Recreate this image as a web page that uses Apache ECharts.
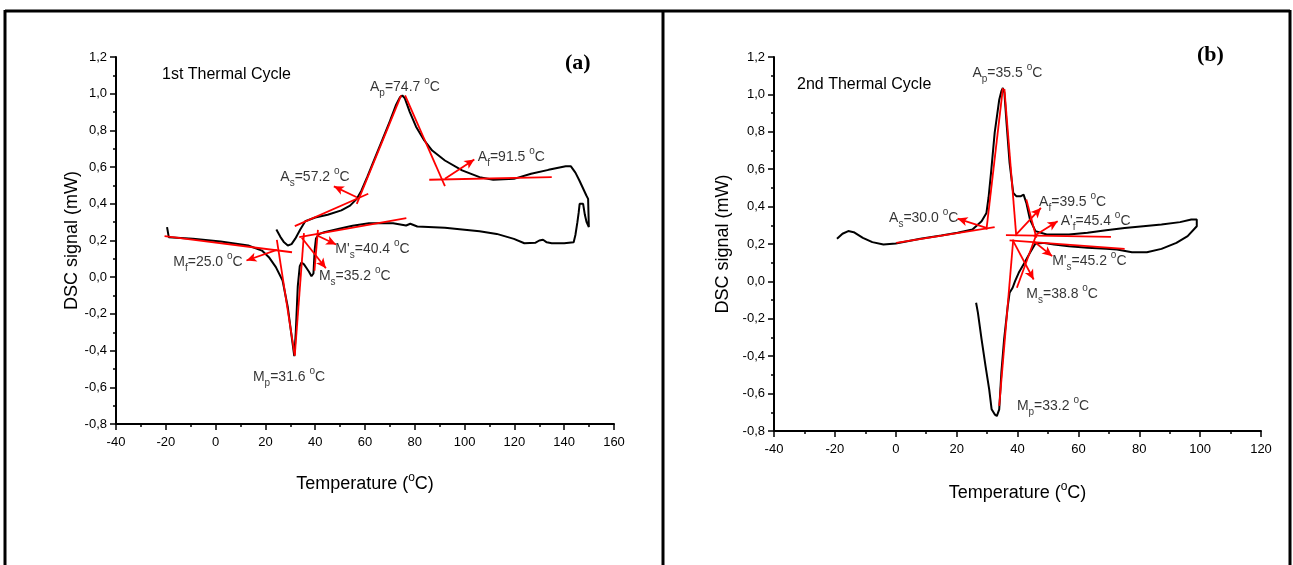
<!DOCTYPE html>
<html>
<head>
<meta charset="utf-8">
<script src="https://cdn.jsdelivr.net/npm/echarts@6/dist/echarts.min.js"></script>
<style>
  html, body { margin: 0; padding: 0; background: #fff; }
  #main { width: 1293px; height: 565px; }
</style>
</head>
<body>
<div id="main"></div>
<script>
// ---- cycle 1 (panel a): temperature / DSC signal, loop order
var cycle1Temp = [24.4, 26, 27.5, 29.0, 30.5, 32, 34, 36.0, 40, 45, 50.5, 54, 56.7, 58.5, 61, 64, 67, 70, 72.5, 74, 75, 76, 78, 80.5, 83.8, 87, 92.1, 99, 106, 111.5, 119.8, 126.7, 133.7, 140.6, 142.7, 144.5, 146.1, 148.9, 149.6, 149.9,
  149, 148.3, 147.6, 147, 146.2, 145.8, 145.3, 144.5, 143.8, 140, 135, 133, 131.5, 130, 128.5, 124, 119.8, 112.9, 106, 99, 92.1, 81, 78.2, 76.5, 71.3, 61.6, 55, 50.5, 43.6, 41.5, 40.3, 39.8, 39.3, 38.5, 37.5, 36.5, 35.5, 34.5, 33.8, 33, 32.2, 31.6,
  30.4, 29, 26.9, 24.2, 21.4, 18.6, 13.1, 2, -9.1, -18.8, -19.5, -19.5]
var cycle1Signal = [0.26, 0.22, 0.19, 0.173, 0.18, 0.21, 0.26, 0.305, 0.325, 0.34, 0.364, 0.39, 0.427, 0.47, 0.55, 0.65, 0.75, 0.85, 0.94, 0.98, 0.99, 0.975, 0.9, 0.82, 0.745, 0.69, 0.636, 0.582, 0.545, 0.531, 0.536, 0.564, 0.585, 0.605, 0.604, 0.57, 0.527, 0.445, 0.427, 0.273,
  0.3, 0.34, 0.4, 0.41, 0.4, 0.35, 0.3, 0.23, 0.19, 0.185, 0.185, 0.19, 0.204, 0.2, 0.188, 0.185, 0.209, 0.236, 0.251, 0.26, 0.269, 0.276, 0.291, 0.282, 0.294, 0.294, 0.28, 0.267, 0.245, 0.235, 0.21, 0.15, 0.02, 0.005, 0.03, 0.05, 0.07, 0.08, 0.06, -0.05, -0.3, -0.43,
  -0.309, -0.164, -0.018, 0.055, 0.109, 0.145, 0.173, 0.195, 0.209, 0.218, 0.22, 0.273]

// ---- cycle 2 (panel b)
var cycle2Temp = [-19.3, -17.5, -15.6, -13.8, -10.8, -7.7, -4.05, 0, 8.1, 15, 20.3, 25.2, 28.2, 29.8, 30.5, 31.3, 32.5, 34, 34.7, 35.2, 35.7, 36.4, 37.4, 38.6, 39.6, 41, 42, 42.9, 44.1, 45.9, 49.6, 56.9, 63, 69.1, 75.2, 81.3, 87.3, 93.4, 97.1, 98.9,
  98.9, 95.9, 92.2, 87.3, 82.5, 77.6, 72.7, 69.1, 63, 56.9, 52, 48.3, 45.9, 44.1, 42.3, 40.4, 39.2, 38.4, 37.4, 36.8, 35.6, 34.7, 34, 33.2, 32.5, 31.5, 30.7, 29.5, 28.2, 27, 26.4]
var cycle2Signal = [0.228, 0.255, 0.269, 0.263, 0.233, 0.21, 0.197, 0.203, 0.228, 0.245, 0.26, 0.277, 0.322, 0.366, 0.45, 0.58, 0.794, 0.972, 1.017, 1.034, 1.008, 0.847, 0.634, 0.473, 0.456, 0.455, 0.464, 0.42, 0.331, 0.269, 0.251, 0.251, 0.26, 0.274, 0.286, 0.295, 0.304, 0.317, 0.331, 0.331,
  0.295, 0.242, 0.206, 0.174, 0.156, 0.156, 0.171, 0.174, 0.18, 0.188, 0.197, 0.206, 0.203, 0.153, 0.1, 0.046, 0.001, -0.034, -0.061, -0.132, -0.31, -0.488, -0.684, -0.72, -0.711, -0.684, -0.577, -0.453, -0.31, -0.168, -0.114]

// red tangent lines [x1, y1, x2, y2]
var tangents1 = [
  [-20.5, 0.224, 30.7, 0.136],
  [24.6, 0.204, 31.8, -0.427],
  [31.8, -0.427, 35.5, 0.24],
  [33.6, 0.218, 76.6, 0.322],
  [41.1, 0.258, 39.7, 0.036],
  [31.8, 0.278, 61.3, 0.455],
  [56.7, 0.4, 74.5, 0.991],
  [76.1, 0.991, 92.1, 0.496],
  [85.8, 0.531, 135.0, 0.545]
]
var arrows1 = [
  [24.6, 0.149, 12.4, 0.091],
  [34.6, 0.215, 44.3, 0.049],
  [40.8, 0.227, 48.4, 0.178],
  [56.7, 0.436, 47.5, 0.495],
  [92.1, 0.536, 103.9, 0.642]
]
var tangents2 = [
  [0.2, 0.206, 32.5, 0.29],
  [29.8, 0.277, 35.2, 1.034],
  [35.7, 1.029, 39.6, 0.242],
  [36.2, 0.247, 70.7, 0.238],
  [37.4, 0.219, 75.2, 0.174],
  [34.0, -0.666, 38.6, 0.224],
  [39.8, -0.034, 46.2, 0.251],
  [42.9, 0.438, 46.2, 0.233]
]
var arrows2 = [
  [29.8, 0.286, 20.3, 0.336],
  [39.6, 0.251, 47.7, 0.393],
  [45.3, 0.242, 53.2, 0.322],
  [38.6, 0.215, 45.3, 0.01],
  [45.3, 0.215, 51.4, 0.135]
]

// annotations: [symbol, subscript, value]
var notes1 = [['A', 'p', '74.7'], ['A', 's', '57.2'], ['A', 'f', '91.5'], ["M'", 's', '40.4'], ['M', 'f', '25.0'], ['M', 's', '35.2'], ['M', 'p', '31.6']]
var notes1At = [[62.0, 1.036], [26.0, 0.545], [105.3, 0.655], [48.1, 0.155], [-17.0, 0.082], [41.5, 0.004], [15.0, -0.545]]
var notes2 = [['A', 'p', '35.5'], ['A', 's', '30.0'], ['A', 'f', '39.5'], ["A'", 'f', '45.4'], ["M'", 's', '45.2'], ['M', 's', '38.8'], ['M', 'p', '33.2']]
var notes2At = [[25.2, 1.115], [-2.2, 0.336], [47.1, 0.425], [54.2, 0.322], [51.4, 0.108], [42.9, -0.07], [39.8, -0.666]]

var FONT = 'Liberation Sans'

function pairs(xs, ys) {
  return xs.map(function (x, i) { return [x, ys[i]] })
}

function segLines(list, arrow) {
  return list.map(function (s) {
    return [
      { coord: [s[0], s[1]], symbol: 'none' },
      { coord: [s[2], s[3]], symbol: arrow ? 'arrow' : 'none' }
    ]
  })
}

function noteText(n) {
  return '{n|' + n[0] + '}{sub|' + n[1] + '}{n|=' + n[2] + ' }{sup|o}{n|C}'
}

var richNote = {
  n: { fontSize: 14, fontFamily: FONT, color: '#000', lineHeight: 22 },
  sub: { fontSize: 10, fontFamily: FONT, color: '#000', verticalAlign: 'bottom' },
  sup: { fontSize: 10, fontFamily: FONT, color: '#000', verticalAlign: 'top' }
}

function noteSeries(idx, notes, at) {
  return {
    type: 'scatter',
    xAxisIndex: idx,
    yAxisIndex: idx,
    symbolSize: 0,
    silent: true,
    z: 5,
    data: at.map(function (p, i) { return { value: p, name: String(i) } }),
    label: {
      show: true,
      position: 'right',
      distance: 0,
      color: '#000',
      formatter: function (p) { return noteText(notes[+p.name]) },
      rich: richNote
    }
  }
}

function curveSeries(idx, data, tangents, arrows) {
  return {
    type: 'line',
    xAxisIndex: idx,
    yAxisIndex: idx,
    data: data,
    showSymbol: false,
    symbol: 'none',
    silent: true,
    lineStyle: { color: '#000', width: 2 },
    markLine: {
      silent: true,
      symbol: 'none',
      symbolSize: [7, 10],
      animation: false,
      label: { show: false },
      lineStyle: { color: '#ff0000', width: 1.8, type: 'solid' },
      data: segLines(tangents, false).concat(segLines(arrows, true))
    }
  }
}

function xAxisCfg(idx, max, gap) {
  return {
    type: 'value',
    gridIndex: idx,
    min: -40,
    max: max,
    interval: 20,
    name: 'Temperature ({sup|o}C)',
    nameLocation: 'middle',
    nameGap: gap,
    nameTextStyle: {
      fontSize: 18, fontFamily: FONT, color: '#000', lineHeight: 24,
      rich: { sup: { fontSize: 12, fontFamily: FONT, color: '#000', verticalAlign: 'top' } }
    },
    splitLine: { show: false },
    axisLine: { onZero: false, lineStyle: { color: '#000', width: 2 } },
    axisTick: { length: 6, lineStyle: { color: '#000', width: 1.5 } },
    minorTick: { show: true, splitNumber: 2, length: 3, lineStyle: { color: '#000', width: 1.5 } },
    axisLabel: { color: '#000', fontSize: 13, fontFamily: FONT, margin: 12 }
  }
}

function yAxisCfg(idx, gap) {
  return {
    type: 'value',
    gridIndex: idx,
    min: -0.8,
    max: 1.2,
    interval: 0.2,
    name: 'DSC signal (mW)',
    nameLocation: 'middle',
    nameGap: gap,
    nameTextStyle: { fontSize: 18, fontFamily: FONT, color: '#000' },
    splitLine: { show: false },
    axisLine: { onZero: false, lineStyle: { color: '#000', width: 2 } },
    axisTick: { length: 6, lineStyle: { color: '#000', width: 1.5 } },
    minorTick: { show: true, splitNumber: 2, length: 3, lineStyle: { color: '#000', width: 1.5 } },
    axisLabel: {
      color: '#000', fontSize: 13, fontFamily: FONT, margin: 9,
      formatter: function (v) { return v.toFixed(1).replace('.', ',') }
    }
  }
}

var myChart = echarts.init(document.getElementById('main'), null, { renderer: 'canvas' })

var option = {
  animation: false,
  backgroundColor: '#fff',
  grid: [
    { left: 116, top: 57, width: 498, height: 367 },
    { left: 774, top: 57, width: 487, height: 374 }
  ],
  xAxis: [xAxisCfg(0, 160, 48), xAxisCfg(1, 120, 50)],
  yAxis: [yAxisCfg(0, 27), yAxisCfg(1, 42)],
  graphic: [
    // frame
    { type: 'line', shape: { x1: 5, y1: 11, x2: 1290, y2: 11 }, style: { stroke: '#000', lineWidth: 3 } },
    { type: 'line', shape: { x1: 5, y1: 10, x2: 5, y2: 565 }, style: { stroke: '#000', lineWidth: 3 } },
    { type: 'line', shape: { x1: 663, y1: 10, x2: 663, y2: 565 }, style: { stroke: '#000', lineWidth: 3 } },
    { type: 'line', shape: { x1: 1290, y1: 10, x2: 1290, y2: 565 }, style: { stroke: '#000', lineWidth: 3 } },
    // panel headings
    { type: 'text', left: 162, top: 67, style: { text: '1st Thermal Cycle', font: '16px "Liberation Sans"', fill: '#000' } },
    { type: 'text', left: 797, top: 77, style: { text: '2nd Thermal Cycle', font: '16px "Liberation Sans"', fill: '#000' } },
    { type: 'text', left: 565, top: 52, style: { text: '(a)', font: 'bold 22px "Liberation Serif"', fill: '#000' } },
    { type: 'text', left: 1197, top: 44, style: { text: '(b)', font: 'bold 22px "Liberation Serif"', fill: '#000' } }
  ],
  series: [
    curveSeries(0, pairs(cycle1Temp, cycle1Signal), tangents1, arrows1),
    curveSeries(1, pairs(cycle2Temp, cycle2Signal), tangents2, arrows2),
    noteSeries(0, notes1, notes1At),
    noteSeries(1, notes2, notes2At)
  ]
}

myChart.setOption(option)

window.addEventListener('resize', () => {
  myChart.resize()
})
</script>
</body>
</html>
